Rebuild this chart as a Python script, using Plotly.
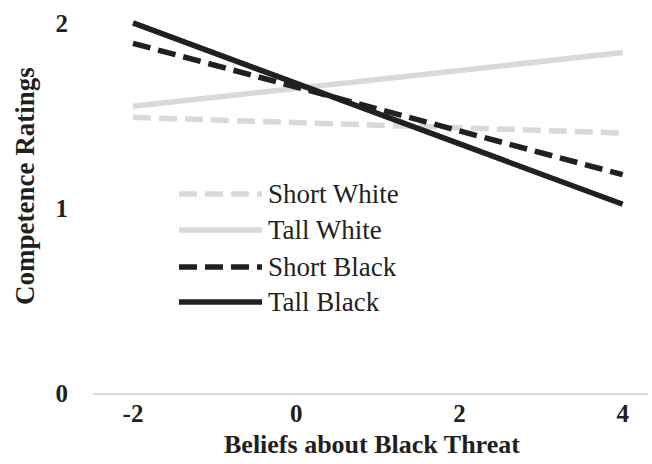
import plotly.graph_objects as go

# Predicted competence ratings at the low and high ends of threat beliefs
threat = [-2, 4]
short_white = [1.49, 1.405]
tall_white = [1.55, 1.84]
short_black = [1.89, 1.18]
tall_black = [2.00, 1.02]

series_names = ["Short White", "Tall White", "Short Black", "Tall Black"]
series_values = [short_white, tall_white, short_black, tall_black]

x_ticks = [-2, 0, 2, 4]
y_ticks = [0, 1, 2]

GRAY = "#d9d9da"
INK = "#231f20"
DASH = "18px,8px"
styles = [
    dict(color=GRAY, dash=DASH),
    dict(color=GRAY, dash="solid"),
    dict(color=INK, dash=DASH),
    dict(color=INK, dash="solid"),
]
LINE_W = 5.5
SERIF = "Liberation Serif, Times New Roman, serif"

W, H = 652, 464
ML, MR, MT, MB = 93, 4, 10, 71
PW, PH = W - ML - MR, H - MT - MB


def px_x(px):
    return (px - ML) / PW


def px_y(py):
    return (H - MB - py) / PH


fig = go.Figure()
for name, vals, st in zip(series_names, series_values, styles):
    fig.add_trace(go.Scatter(
        x=threat, y=vals, mode="lines", name=name,
        line=dict(color=st["color"], width=LINE_W, dash=st["dash"]),
        showlegend=False,
    ))

# Hand-built key with long line samples
key_rows = [194, 230, 267, 302]
for name, st, row in zip(series_names, styles, key_rows):
    fig.add_shape(
        type="line", xref="paper", yref="paper",
        x0=px_x(179), x1=px_x(262), y0=px_y(row), y1=px_y(row),
        line=dict(color=st["color"], width=LINE_W, dash=st["dash"]),
    )
    fig.add_annotation(
        text=name, xref="paper", yref="paper",
        x=px_x(266), y=px_y(row), xanchor="left", yanchor="middle",
        showarrow=False, font=dict(family=SERIF, size=27, color=INK),
    )

fig.add_annotation(
    text="<b>Competence Ratings</b>", xref="paper", yref="paper",
    x=px_x(25), y=px_y(186), xanchor="center", yanchor="middle",
    textangle=-90, showarrow=False,
    font=dict(family=SERIF, size=27, color=INK),
)
fig.add_annotation(
    text="<b>Beliefs about Black Threat</b>", xref="paper", yref="paper",
    x=px_x(372), y=px_y(444), xanchor="center", yanchor="middle",
    showarrow=False, font=dict(family=SERIF, size=26, color=INK),
)

fig.update_layout(
    width=W, height=H,
    margin=dict(l=ML, r=MR, t=MT, b=MB),
    paper_bgcolor="white", plot_bgcolor="white",
    showlegend=False,
    font=dict(family=SERIF, color=INK),
    xaxis=dict(
        range=[-2.49, 4.31], tickvals=x_ticks,
        ticktext=[f"<b>{v}</b>" for v in x_ticks],
        showgrid=False, zeroline=False, showline=True,
        linecolor=GRAY, linewidth=2, ticks="",
        tickfont=dict(family=SERIF, size=25, color=INK),
        ticklabelstandoff=-3,
    ),
    yaxis=dict(
        range=[0, 2.07], tickvals=y_ticks,
        ticktext=[f"<b>{v}</b>" for v in y_ticks],
        showgrid=False, zeroline=False, showline=False, ticks="",
        tickfont=dict(family=SERIF, size=25, color=INK),
        ticklabelstandoff=24,
    ),
)

fig.write_html("out.html")
